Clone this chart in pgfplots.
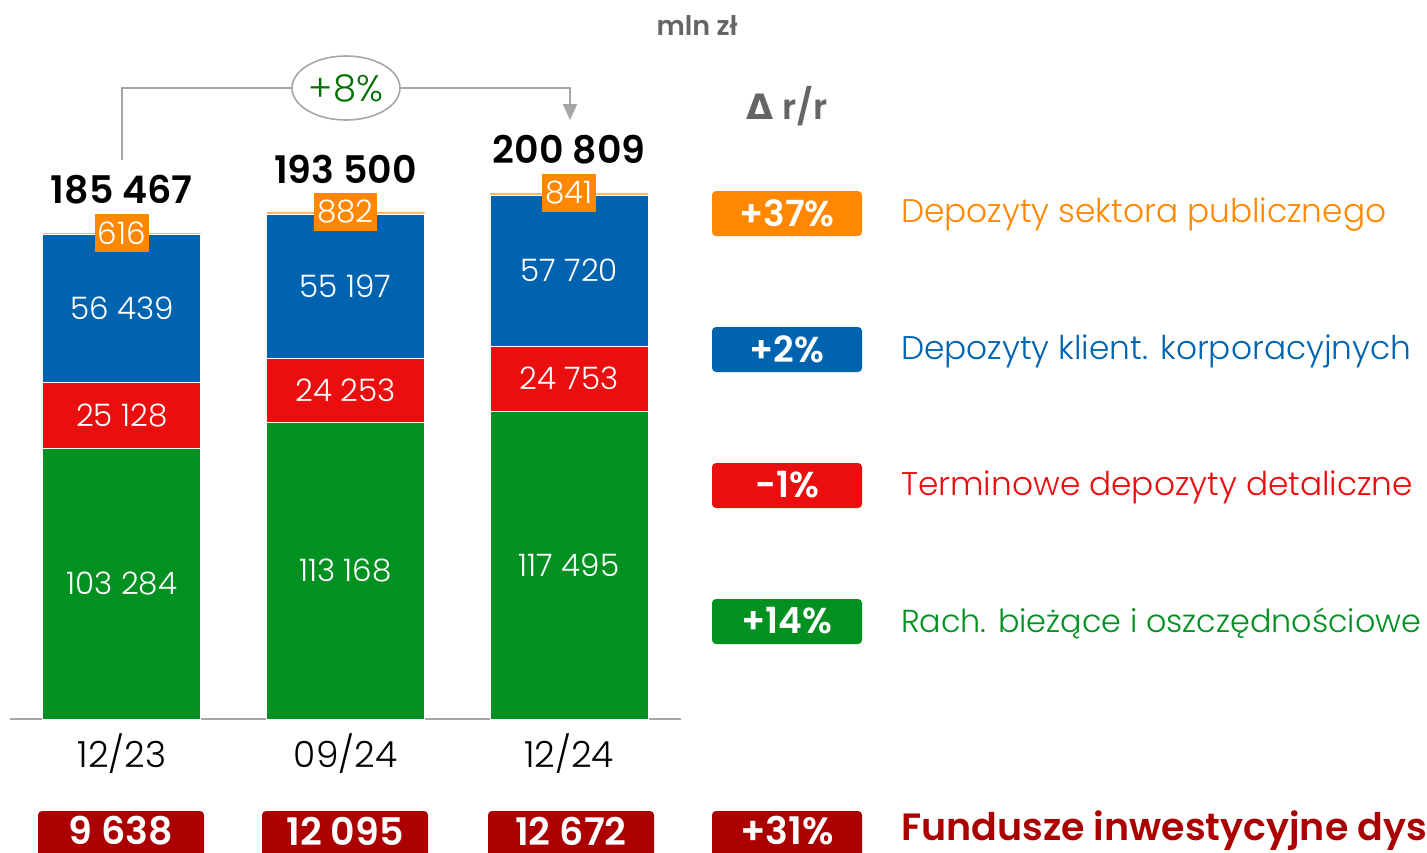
\documentclass[border=0pt]{standalone}
\usepackage{fontspec}
\setmainfont{Poppins}[UprightFont={* Light}, BoldFont={* SemiBold}]
\newfontfamily\dejavu{DejaVu Sans}
\usepackage{pgfplots}
\pgfplotsset{compat=1.18}
\usetikzlibrary{shapes.geometric,arrows.meta}

\definecolor{cgreen}{RGB}{0,145,33}
\definecolor{cred}{RGB}{234,14,14}
\definecolor{cblue}{RGB}{0,99,176}
\definecolor{corange}{RGB}{255,136,0}
\definecolor{cdark}{RGB}{172,0,0}
\definecolor{cgray}{RGB}{100,102,102}
\definecolor{lgray}{RGB}{166,166,166}
\definecolor{tgreen}{RGB}{0,112,0}

\begin{document}
\begin{tikzpicture}[
  seg/.style={text=white, font=\fontsize{15.5}{17}\selectfont},
  tot/.style={font=\bfseries\fontsize{19}{21}\selectfont, yshift=21.5pt},
  obox/.style={fill=corange, text=white, inner xsep=1.5pt, inner ysep=0pt,
               minimum height=19pt, font=\fontsize{15.5}{17}\selectfont},
  lbox/.style={text=white, font=\bfseries\fontsize{18}{20}\selectfont},
  ltxt/.style={anchor=west, font=\fontsize{16.4}{18}\selectfont},
  bbox/.style={text=white, font=\bfseries\fontsize{19}{21}\selectfont},
]
% canvas 1427 x 852 px, 1 px = 0.5pt, origin top-left
\clip (0pt,0pt) rectangle (713.5pt,-426pt);
\path[use as bounding box] (0pt,0pt) rectangle (713.5pt,-426pt);

\begin{axis}[
  at={(5pt,-359.5pt)}, anchor=south west,
  scale only axis, width=335.5pt, height=359.5pt,
  xmin=-0.5, xmax=2.5, ymin=0, ymax=274385,
  ybar stacked, bar width=79pt,
  axis x line=bottom, axis y line=none,
  axis line style={-, draw=lgray, line width=1pt},
  xtick={0,1,2}, xticklabels={12/23,09/24,12/24},
  major tick length=0pt,
  xticklabel style={anchor=center, yshift=-17.5pt, font=\fontsize{18}{20}\selectfont},
  clip=false,
]
\addplot[fill=cgreen, draw=white, line width=0.5pt] coordinates {(0,103284) (1,113168) (2,117495)};
\addplot[fill=cred, draw=white, line width=0.5pt] coordinates {(0,25128) (1,24253) (2,24753)};
\addplot[fill=cblue, draw=white, line width=0.5pt] coordinates {(0,56439) (1,55197) (2,57720)};
\addplot[fill=corange!60, draw=none] coordinates {(0,616) (1,882) (2,841)};

\coordinate (g0) at (axis cs:0,51642);
\coordinate (r0) at (axis cs:0,115848);
\coordinate (b0) at (axis cs:0,156631);
\coordinate (t0) at (axis cs:0,185467);
\coordinate (g1) at (axis cs:1,56584);
\coordinate (r1) at (axis cs:1,125294);
\coordinate (b1) at (axis cs:1,165019);
\coordinate (t1) at (axis cs:1,193500);
\coordinate (g2) at (axis cs:2,58747);
\coordinate (r2) at (axis cs:2,129871);
\coordinate (b2) at (axis cs:2,171108);
\coordinate (t2) at (axis cs:2,200809);
\end{axis}

\node[seg] at (g0) {103 284};
\node[seg] at (r0) {25 128};
\node[seg] at (b0) {56 439};
\node[seg] at (g1) {113 168};
\node[seg] at (r1) {24 253};
\node[seg] at (b1) {55 197};
\node[seg] at (g2) {117 495};
\node[seg] at (r2) {24 753};
\node[seg] at (b2) {57 720};

\node[obox] at (t0) {616};
\node[obox] at (t1) {882};
\node[obox] at (t2) {841};

\node[tot] at (t0) {185 467};
\node[tot] at (t1) {193 500};
\node[tot] at (t2) {200 809};

\begin{scope}[x=0.5pt, y=-0.5pt]
% growth arrow
\draw[lgray, line width=1pt, -{Triangle[width=7pt,length=8pt]}] (122,160) |- (570,88) -- (570,120);
\node[ellipse, draw=lgray, fill=white, line width=0.8pt, minimum width=54pt, minimum height=32pt,
      inner sep=0pt, text=tgreen, font=\fontsize{18.5}{20}\selectfont] at (346,88) {+8\%};

\node[text=cgray, font=\bfseries\fontsize{13.5}{15}\selectfont] at (697,26) {mln zł};
\node[text=cgray, font=\bfseries\fontsize{17.5}{19}\selectfont] at (787,106) {{\dejavu Δ} r/r};

% right legend
\fill[corange, rounded corners=2pt] (712,191) rectangle (862,236);
\fill[cblue, rounded corners=2pt] (712,327) rectangle (862,372);
\fill[cred, rounded corners=2pt] (712,463) rectangle (862,508);
\fill[cgreen, rounded corners=2pt] (712,599) rectangle (862,644);
\node[lbox] at (787,213) {+37\%};
\node[lbox] at (787,349) {+2\%};
\node[lbox] at (787,485) {-1\%};
\node[lbox] at (787,621) {+14\%};
\node[ltxt, text=corange] at (894,215) {Depozyty sektora publicznego};
\node[ltxt, text=cblue] at (894,351) {Depozyty klient. korporacyjnych};
\node[ltxt, text=cred] at (894,487) {Terminowe depozyty detaliczne};
\node[ltxt, text=cgreen, font=\fontsize{15.9}{18}\selectfont] at (894,623) {Rach. bieżące i oszczędnościowe};

% bottom row
\fill[cdark, rounded corners=2pt] (38,811) rectangle (204,870);
\fill[cdark, rounded corners=2pt] (262,811) rectangle (428,870);
\fill[cdark, rounded corners=2pt] (488,811) rectangle (654,870);
\fill[cdark, rounded corners=2pt] (712,811) rectangle (862,870);
\node[bbox] at (121,831) {9 638};
\node[bbox] at (345,831) {12 095};
\node[bbox] at (571,831) {12 672};
\node[bbox] at (787,831) {+31\%};
\node[anchor=west, text=cdark, font=\bfseries\fontsize{19}{21}\selectfont] at (894,831) {Fundusze inwestycyjne dystrybuowane};
\end{scope}
\end{tikzpicture}
\end{document}
